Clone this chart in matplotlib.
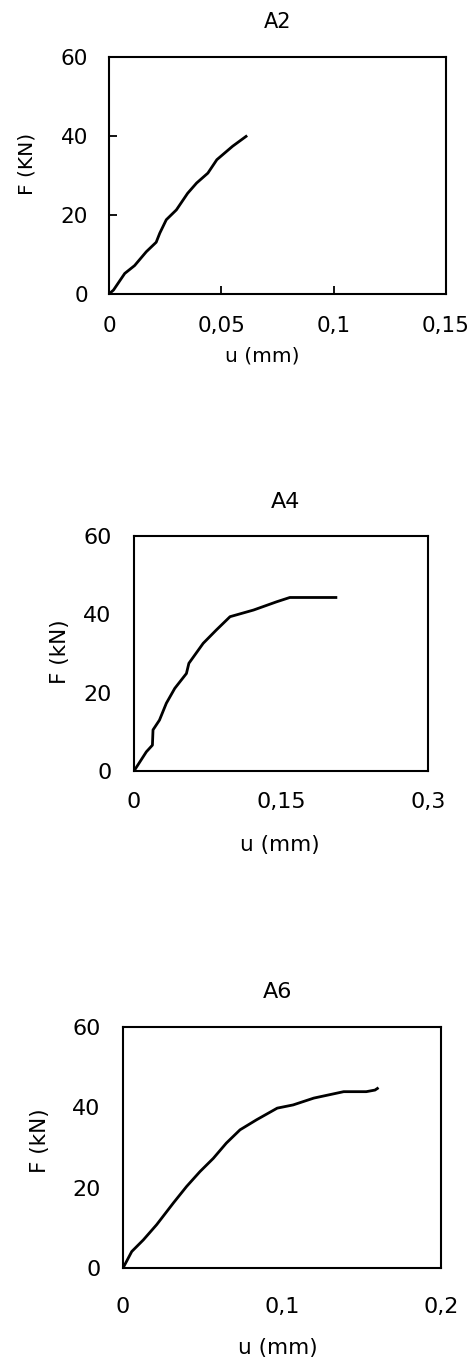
import numpy as np
import matplotlib.pyplot as plt

plt.rcParams['font.family'] = ['DejaVu Sans']

# A2
u_a2 = [0, 0.002, 0.007, 0.0114, 0.0166, 0.021, 0.0226, 0.0255, 0.030, 0.035,
        0.039, 0.044, 0.048, 0.055, 0.061]
f_a2 = [0, 1.0, 5.2, 7.2, 10.7, 13.1, 15.4, 18.8, 21.3, 25.5,
        28.1, 30.6, 34.0, 37.4, 39.9]
xt_a2 = [0, 0.05, 0.1, 0.15]
xl_a2 = ['0', '0,05', '0,1', '0,15']

# A4
u_a4 = [0, 0.0126, 0.0188, 0.0194, 0.026, 0.033, 0.0416, 0.0535, 0.056, 0.0706,
        0.084, 0.098, 0.122, 0.1455, 0.159, 0.206]
f_a4 = [0, 4.9, 6.6, 10.5, 13.0, 17.3, 21.1, 24.9, 27.5, 32.6,
        36.0, 39.4, 41.1, 43.2, 44.3, 44.3]
xt_a4 = [0, 0.15, 0.3]
xl_a4 = ['0', '0,15', '0,3']

# A6
u_a6 = [0, 0.0023, 0.0055, 0.0128, 0.0212, 0.0317, 0.040, 0.0484, 0.0568, 0.065,
        0.0736, 0.084, 0.097, 0.107, 0.120, 0.1388, 0.153, 0.1585, 0.160]
f_a6 = [0, 1.7, 4.1, 7.0, 10.8, 16.2, 20.3, 24.0, 27.3, 31.1,
        34.4, 36.9, 39.8, 40.6, 42.3, 43.9, 43.9, 44.3, 44.7]
xt_a6 = [0, 0.1, 0.2]
xl_a6 = ['0', '0,1', '0,2']

yt = [0, 20, 40, 60]

W, H = 473, 1359
fig = plt.figure(figsize=(W / 100, H / 100), dpi=100)


def box(l, r, t, b):
    return [l / W, (H - b) / H, (r - l) / W, (b - t) / H]


panels = [
    dict(u=u_a2, f=f_a2, xt=xt_a2, xl=xl_a2, xmax=0.15, title='A2', ylab='F (KN)',
         pos=box(109, 446, 57, 294), fs=15.5, tfs=15, lfs=14.5, tlen=6,
         ypad=15, xpad=16, ylc=(-0.214, 0.55), xlc=(0.454, -0.22),
         tpad=21, tx=0.5),
    dict(u=u_a4, f=f_a4, xt=xt_a4, xl=xl_a4, xmax=0.3, title='A4', ylab='F (kN)',
         pos=box(134, 428, 536, 771), fs=16, tfs=16, lfs=15.5, tlen=0,
         ypad=16, xpad=15, ylc=(-0.218, 0.506), xlc=(0.497, -0.272),
         tpad=20, tx=0.514),
    dict(u=u_a6, f=f_a6, xt=xt_a6, xl=xl_a6, xmax=0.2, title='A6', ylab='F (kN)',
         pos=box(123, 441, 1027, 1268), fs=16, tfs=16, lfs=15.5, tlen=0,
         ypad=16, xpad=21, ylc=(-0.23, 0.53), xlc=(0.487, -0.29),
         tpad=21, tx=0.487),
]

for p in panels:
    ax = fig.add_axes(p['pos'])
    ax.plot(p['u'], p['f'], color='black', lw=2.0)
    ax.set_xlim(0, p['xmax'])
    ax.set_ylim(0, 60)
    ax.set_xticks(p['xt'])
    ax.set_xticklabels(p['xl'])
    ax.set_yticks(yt)
    ax.tick_params(direction='in', length=p['tlen'], width=1.3,
                   labelsize=p['fs'], color='black')
    ax.tick_params(axis='y', pad=p['ypad'])
    ax.tick_params(axis='x', pad=p['xpad'])
    for s in ax.spines.values():
        s.set_linewidth(1.5)
    ax.set_title(p['title'], fontsize=p['tfs'], pad=p['tpad'], x=p['tx'])
    ax.set_ylabel(p['ylab'], fontsize=p['lfs'])
    ax.yaxis.set_label_coords(*p['ylc'])
    ax.set_xlabel('u (mm)', fontsize=p['lfs'])
    ax.xaxis.set_label_coords(*p['xlc'])

plt.savefig('out.png', dpi=100)
